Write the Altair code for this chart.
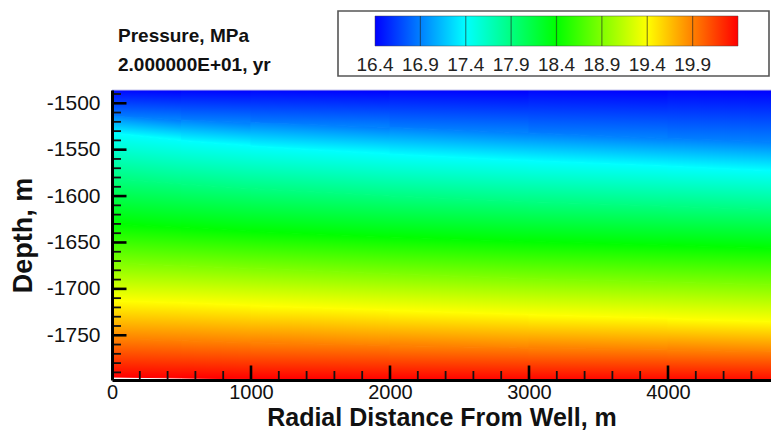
import numpy as np
import pandas as pd
import altair as alt

# ---------------- data ----------------
radial_m = [0, 500, 1000, 2000, 3000, 4000, 4800]
pressure_levels = [16.4, 16.9, 17.4, 17.9, 18.4, 18.9, 19.4, 19.9, 20.4]
level_colors = ["#0000ff", "#0080ff", "#00ffff", "#00ff80", "#00ff00",
                "#80ff00", "#ffff00", "#ff8000", "#ff0000"]
# depth (m) where pressure reaches each level, at each radial distance
depth_at_16_4 = [-1485.0, -1485.0, -1485.0, -1485.0, -1485.0, -1485.0, -1485.0]
depth_at_16_9 = [-1514, -1518, -1521, -1526, -1532, -1538, -1542]
depth_at_17_4 = [-1532, -1540, -1546, -1555, -1562, -1568, -1573]
depth_at_17_9 = [-1581, -1587, -1592, -1600, -1606, -1611, -1615]
depth_at_18_4 = [-1630, -1634, -1638, -1644, -1649, -1653, -1656]
depth_at_18_9 = [-1672, -1675, -1678, -1684, -1689, -1693, -1696]
depth_at_19_4 = [-1713, -1715, -1718, -1723, -1728, -1732, -1736]
depth_at_19_9 = [-1754, -1756, -1758, -1761, -1764, -1766, -1768]
depth_at_20_4 = [-1795, -1796, -1797, -1798, -1799, -1800, -1801]
contours = [depth_at_16_4, depth_at_16_9, depth_at_17_4, depth_at_17_9, depth_at_18_4,
            depth_at_18_9, depth_at_19_4, depth_at_19_9, depth_at_20_4]

colorbar_labels = ["16.4", "16.9", "17.4", "17.9", "18.4", "18.9", "19.4", "19.9"]
x_tick_values = [0, 1000, 2000, 3000, 4000]
y_tick_values = [-1750, -1700, -1650, -1600, -1550, -1500]
x_minor_ticks = [r for r in range(200, 4800, 200) if r % 1000 != 0]
y_minor_ticks = [d for d in range(-1790, -1480, 10) if d % 50 != 0]
title_lines = ["Pressure, MPa", "2.000000E+01, yr"]

X_DOMAIN = [0, 4741]
Y_DOMAIN = [-1798.2, -1485.7]
W, H = 659, 290
FONT = "Liberation Sans"

# ---------------- band table ----------------
rows = []
for i in range(len(pressure_levels) - 1):
    for j in range(len(radial_m) - 1):
        for k in (0, 1):
            rows.append({"band": i, "slice": j, "r": radial_m[j + k],
                         "top": contours[i][j + k], "bot": contours[i + 1][j + k]})
bands = pd.DataFrame(rows)

xscale = alt.Scale(domain=X_DOMAIN, nice=False, zero=False)
yscale = alt.Scale(domain=Y_DOMAIN, nice=False, zero=False)
xaxis = alt.Axis(values=x_tick_values, format="d", ticks=False, tickSize=0, grid=False,
                 domainColor="black", domainWidth=3, labelFontSize=20, labelColor="#111",
                 labelFont=FONT, labelPadding=2, labelFlush=False,
                 titleFontSize=25, titleFont=FONT, titleFontWeight="bold", titleColor="#111",
                 titleY=45.5, titleBaseline="alphabetic", zindex=1)
yaxis = alt.Axis(values=y_tick_values, labelExpr="'' + datum.value", ticks=False, tickSize=0,
                 grid=False, domainColor="black", domainWidth=3, labelFontSize=21,
                 labelColor="#111", labelFont=FONT, labelPadding=12, labelFlush=False,
                 titleFontSize=27, titleFont=FONT, titleFontWeight="bold", titleColor="#111",
                 titleX=-89, titleY=H / 2, titleAngle=-90, titleBaseline="middle", zindex=1)
XT = "Radial Distance From Well, m"
YT = "Depth, m"


def slice_gradient(i, j):
    t0, t1 = contours[i][j], contours[i][j + 1]
    b0, b1 = contours[i + 1][j], contours[i + 1][j + 1]
    dt, db = max(t0, t1), min(b0, b1)
    v = lambda d: (dt - d) / (dt - db)
    A = np.array([[0, v(t0), 1], [1, v(t1), 1], [0, v(b0), 1], [1, v(b1), 1]], float)
    rhs = np.array([0, 0, 1, 1], float)
    a, b, g = np.linalg.lstsq(A, rhs, rcond=None)[0]
    n = a * a + b * b
    x1, y1 = -g * a / n, -g * b / n
    return {"gradient": "linear",
            "stops": [{"offset": 0, "color": level_colors[i]},
                      {"offset": 1, "color": level_colors[i + 1]}],
            "x1": round(float(x1), 5), "y1": round(float(y1), 5),
            "x2": round(float(x1 + a / n), 5), "y2": round(float(y1 + b / n), 5)}


field_layers = []
for i in range(len(pressure_levels) - 1):
    for j in range(len(radial_m) - 1):
        gr = slice_gradient(i, j)
        field_layers.append(
            alt.Chart(bands)
            .transform_filter((alt.datum.band == i) & (alt.datum.slice == j))
            .mark_area(fill=gr, stroke=gr, strokeWidth=1, opacity=1, clip=True)
            .encode(x=alt.X("r:Q", scale=xscale, axis=xaxis, title=XT),
                    y=alt.Y("top:Q", scale=yscale, axis=yaxis, title=YT),
                    y2="bot:Q")
        )

ymaj = pd.DataFrame({"v": y_tick_values})
ymin = pd.DataFrame({"v": y_minor_ticks})
xmaj = pd.DataFrame({"v": x_tick_values[1:]})
xmin = pd.DataFrame({"v": x_minor_ticks})
topline = pd.DataFrame({"v": [Y_DOMAIN[1]]})

tick_layers = [
    alt.Chart(topline).mark_rule(color="#c4c4ec", strokeWidth=1.2).encode(
        y=alt.Y("v:Q", scale=yscale, axis=yaxis, title=YT), x=alt.value(0), x2=alt.value(W)),
    alt.Chart(ymaj).mark_rule(color="black", strokeWidth=2.6).encode(
        y=alt.Y("v:Q", scale=yscale, axis=yaxis, title=YT), x=alt.value(0), x2=alt.value(14.5)),
    alt.Chart(ymin).mark_rule(color="#111", strokeWidth=1.8).encode(
        y=alt.Y("v:Q", scale=yscale, axis=yaxis, title=YT), x=alt.value(0), x2=alt.value(9)),
    alt.Chart(xmaj).mark_rule(color="black", strokeWidth=2.6).encode(
        x=alt.X("v:Q", scale=xscale, axis=xaxis, title=XT), y=alt.value(H), y2=alt.value(H - 14.5)),
    alt.Chart(xmin).mark_rule(color="#111", strokeWidth=1.8).encode(
        x=alt.X("v:Q", scale=xscale, axis=xaxis, title=XT), y=alt.value(H), y2=alt.value(H - 9)),
]

main = alt.layer(*field_layers, *tick_layers)

# ---------------- colour-bar legend ----------------
pscale = alt.Scale(domain=[pressure_levels[0], pressure_levels[-1]], range=[263, 626])
one = pd.DataFrame({"p0": [pressure_levels[0]], "p1": [pressure_levels[-1]]})
cb_grad = {"gradient": "linear",
           "stops": [{"offset": round((p - pressure_levels[0]) / (pressure_levels[-1] - pressure_levels[0]), 4),
                      "color": c} for p, c in zip(pressure_levels, level_colors)],
           "x1": 0, "y1": 0, "x2": 1, "y2": 0}
lab = pd.DataFrame({"p": pressure_levels[:-1], "label": colorbar_labels})
bounds = pd.DataFrame({"p": pressure_levels[1:-1]})

legend = alt.layer(
    alt.Chart(one).mark_rect(fill="white", stroke="#555", strokeWidth=1.6).encode(
        x=alt.value(226), x2=alt.value(657), y=alt.value(-79), y2=alt.value(-14)),
    alt.Chart(one).mark_rect(fill=cb_grad, stroke="#444", strokeWidth=0.8, strokeOpacity=0.6).encode(
        x=alt.X("p0:Q", scale=pscale, axis=None), x2="p1:Q", y=alt.value(-74), y2=alt.value(-44)),
    alt.Chart(bounds).mark_rule(color="#222", strokeWidth=1.2, opacity=0.55).encode(
        x=alt.X("p:Q", scale=pscale, axis=None), y=alt.value(-74), y2=alt.value(-44)),
    alt.Chart(lab).mark_text(font=FONT, fontSize=19, color="#222", align="center",
                             baseline="alphabetic").encode(
        x=alt.X("p:Q", scale=pscale, axis=None), y=alt.value(-19), text="label:N"),
    alt.Chart(one).mark_text(text=title_lines[0], font=FONT, fontSize=19, fontWeight="bold",
                             color="#111", align="left", baseline="alphabetic").encode(
        x=alt.value(6), y=alt.value(-48)),
    alt.Chart(one).mark_text(text=title_lines[1], font=FONT, fontSize=19, fontWeight="bold",
                             color="#111", align="left", baseline="alphabetic").encode(
        x=alt.value(6), y=alt.value(-19)),
)

chart = (
    alt.layer(main, legend)
    .resolve_scale(x="independent")
    .properties(width=W, height=H,
                autosize=alt.AutoSizeParams(type="none"),
                padding={"left": 104, "top": 82, "right": 0, "bottom": 51})
    .configure_view(stroke=None)
    .configure(font=FONT)
)

chart.save("out.html", embed_options={"renderer": "svg", "actions": False})
